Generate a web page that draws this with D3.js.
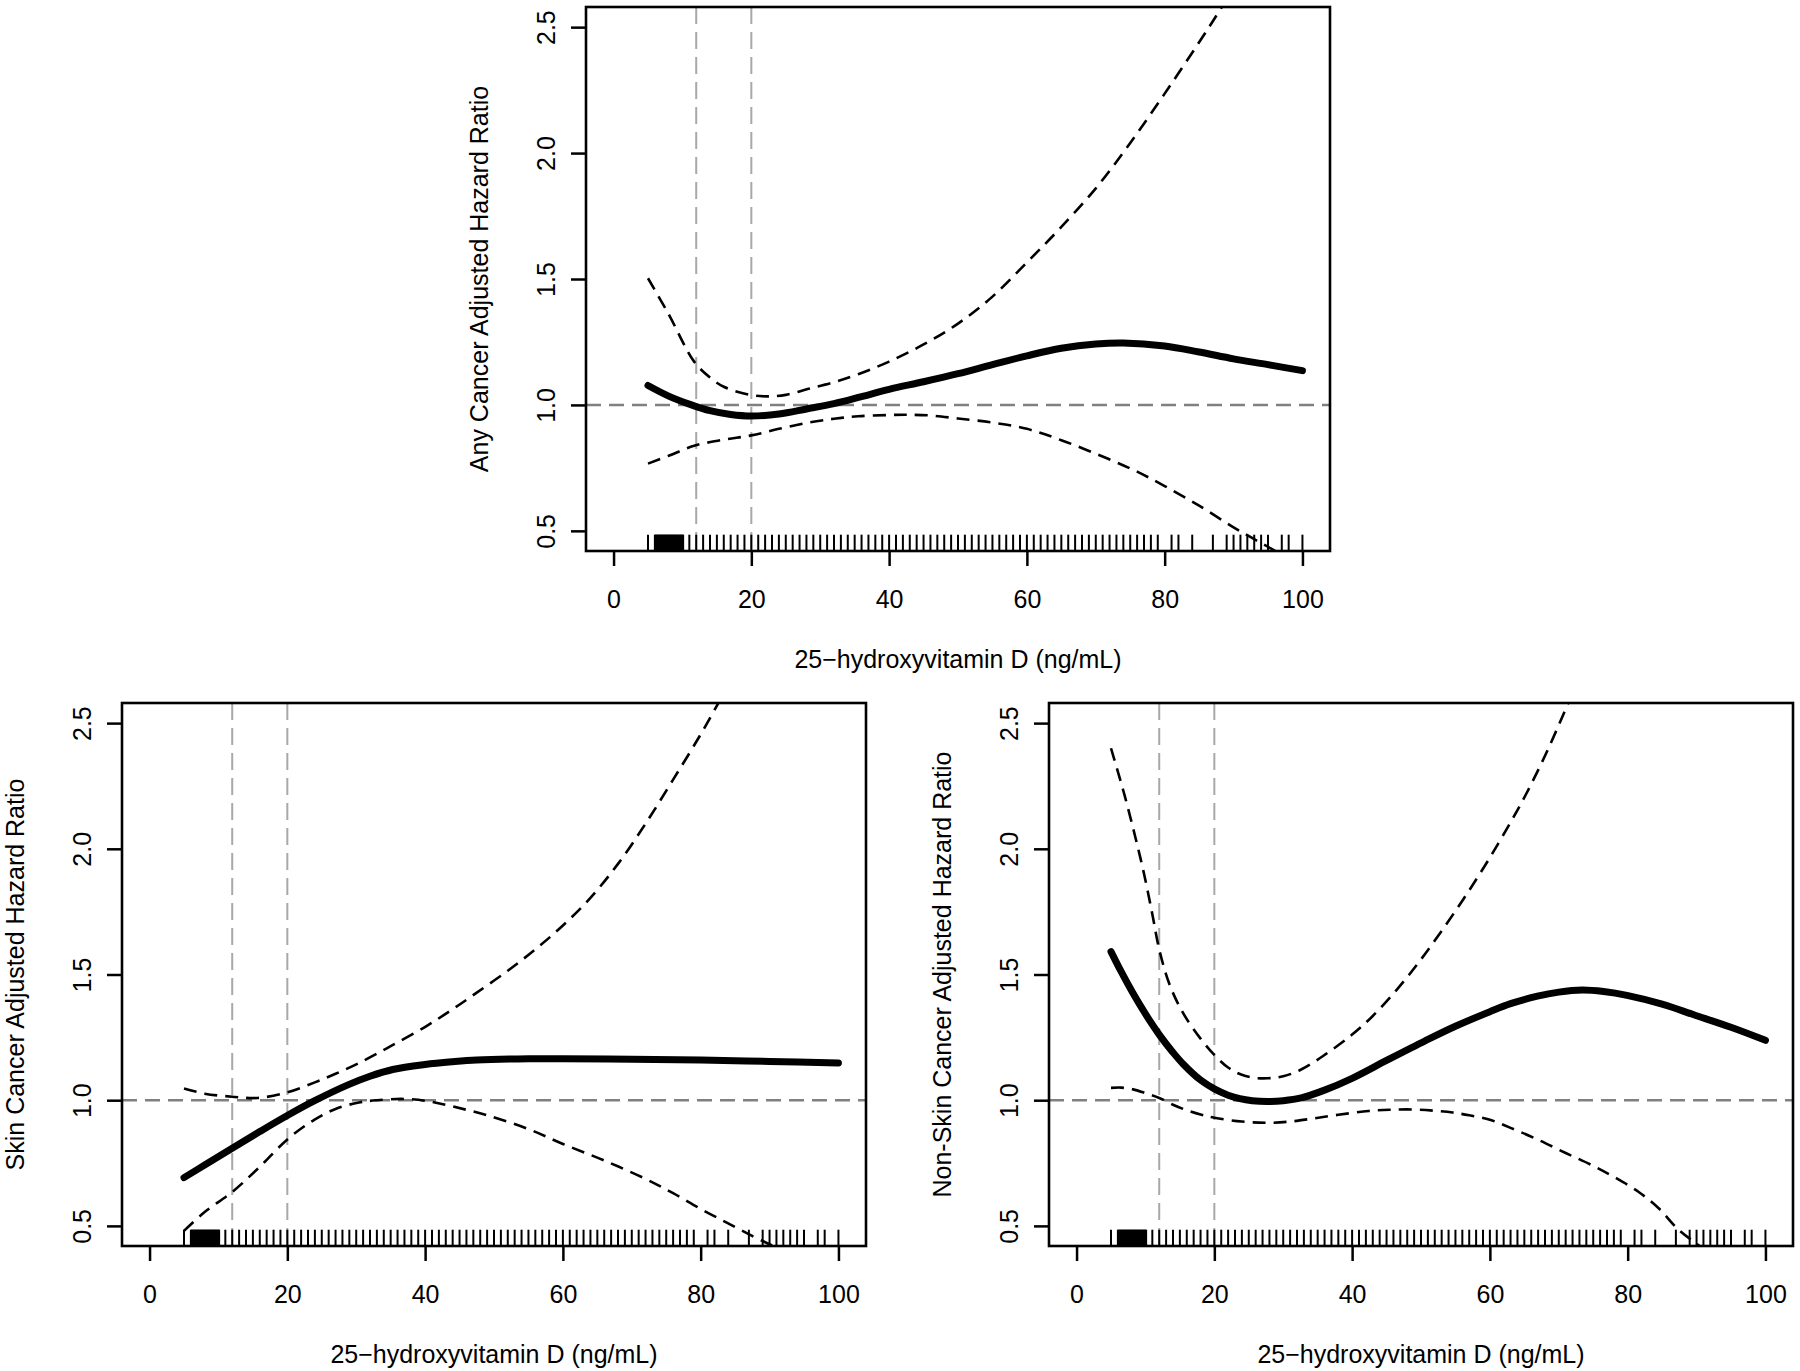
<!DOCTYPE html>
<html>
<head>
<meta charset="utf-8">
<script src="https://cdn.jsdelivr.net/npm/d3@7"></script>
<style>
  html, body { margin: 0; padding: 0; background: #fff; }
  svg { display: block; }
  text { font-family: "Liberation Sans", Arial, Helvetica, sans-serif; fill: #000; }
</style>
</head>
<body>
<svg id="chart" width="1800" height="1371"></svg>
<script>
// ---------------- data ----------------
const xTicks = [0, 20, 40, 60, 80, 100];
const xTickLabels = ["0", "20", "40", "60", "80", "100"];
const yTicks = [0.5, 1.0, 1.5, 2.0, 2.5];
const yTickLabels = ["0.5", "1.0", "1.5", "2.0", "2.5"];
const cutoffs = [12, 20];
const referenceHR = 1.0;
const xTitle = "25\u2212hydroxyvitamin D (ng/mL)";
const panelTitles = [
  "Any Cancer Adjusted Hazard Ratio",
  "Skin Cancer Adjusted Hazard Ratio",
  "Non-Skin Cancer Adjusted Hazard Ratio"
];

// observed 25(OH)D values (rug)
const rugValues = [
  5,
  6.0, 6.125, 6.25, 6.375, 6.5, 6.625, 6.75, 6.875, 7.0, 7.125, 7.25, 7.375, 7.5, 7.625, 7.75, 7.875,
  8.0, 8.125, 8.25, 8.375, 8.5, 8.625, 8.75, 8.875, 9.0, 9.125, 9.25, 9.375, 9.5, 9.625, 9.75, 9.875, 10.0, 10.1,
  11, 12, 13, 14, 15, 16, 17, 18, 19, 20, 21, 22, 23, 24, 25, 26, 27, 28, 29, 30,
  31, 32, 33, 34, 35, 36, 37, 38, 39, 40, 41, 42, 43, 44, 45, 46, 47, 48, 49, 50,
  51, 52, 53, 54, 55, 56, 57, 58, 59, 60, 61, 62, 63, 64, 65, 66, 67, 68, 69, 70,
  71, 72, 73, 74, 75, 76, 77, 78, 79, 81, 82, 84, 87, 89, 90, 91, 92, 93, 94, 95, 97, 98, 100
];

// Any cancer
const anyFitX = [5, 8, 11.3, 14, 17, 20, 24, 28, 32, 36, 40, 45, 50, 55, 60, 65, 70, 74, 80, 85, 90, 95, 100];
const anyFitY = [1.077, 1.035, 1.0, 0.977, 0.962, 0.956, 0.964, 0.984, 1.005, 1.033, 1.062, 1.092, 1.124, 1.16, 1.195, 1.225, 1.242, 1.246, 1.234, 1.21, 1.183, 1.16, 1.136];
const anyHiX = [5, 8, 11.7, 14, 16, 20, 22.5, 25, 28.3, 32, 35.5, 40, 45, 50, 55, 60, 64.5, 70, 75, 80, 85, 88.3, 92];
const anyHiY = [1.503, 1.36, 1.172, 1.109, 1.072, 1.039, 1.034, 1.04, 1.064, 1.09, 1.122, 1.172, 1.24, 1.323, 1.43, 1.566, 1.692, 1.86, 2.04, 2.236, 2.44, 2.58, 2.75];
const anyLoX = [5, 8, 11.7, 16, 20, 24, 28.3, 32, 35.5, 40, 42.8, 46, 50, 55, 60, 65, 71.7, 76, 80, 85, 89.7, 93, 96.2, 98];
const anyLoY = [0.767, 0.798, 0.838, 0.862, 0.879, 0.905, 0.93, 0.945, 0.955, 0.96, 0.961, 0.958, 0.946, 0.93, 0.905, 0.86, 0.787, 0.735, 0.678, 0.6, 0.519, 0.467, 0.418, 0.39];

// Skin cancer
const skinFitX = [5, 8, 12, 16, 20, 23.9, 28.8, 32, 35.3, 40, 44, 47.5, 55, 60, 70, 80, 90, 100];
const skinFitY = [0.692, 0.742, 0.809, 0.875, 0.939, 0.997, 1.061, 1.095, 1.122, 1.142, 1.153, 1.16, 1.165, 1.165, 1.163, 1.16, 1.154, 1.148];
const skinHiX = [5, 8, 12, 15.7, 20, 23.9, 27, 30.4, 35, 40.2, 44, 47.5, 52, 56, 60, 64, 68, 72, 76, 80, 83, 85];
const skinHiY = [1.047, 1.026, 1.014, 1.009, 1.031, 1.07, 1.105, 1.148, 1.215, 1.295, 1.362, 1.428, 1.515, 1.6, 1.695, 1.805, 1.94, 2.1, 2.275, 2.455, 2.6, 2.69];
const skinLoX = [5, 8, 12, 16, 20, 23.9, 27, 30.4, 33, 36.9, 40.2, 44, 49.1, 55, 60, 66, 72, 76, 80.1, 84, 87.4, 90, 92];
const skinLoY = [0.48, 0.555, 0.635, 0.735, 0.844, 0.922, 0.965, 0.991, 1.0, 1.005, 0.997, 0.975, 0.939, 0.885, 0.826, 0.76, 0.687, 0.63, 0.566, 0.51, 0.461, 0.427, 0.40];

// Non-skin cancer
const nsFitX = [5, 6.5, 8.2, 10, 12, 14, 15.5, 18, 20, 22, 23.7, 25.5, 27.7, 30, 32.6, 36, 40, 45, 50.6, 55, 60, 63, 66.9, 70, 73.4, 76.5, 79.9, 85, 89.7, 95, 100];
const nsFitY = [1.591, 1.51, 1.425, 1.343, 1.261, 1.19, 1.143, 1.08, 1.045, 1.02, 1.006, 0.998, 0.995, 0.998, 1.009, 1.04, 1.087, 1.158, 1.236, 1.294, 1.352, 1.384, 1.414, 1.43, 1.438, 1.432, 1.417, 1.382, 1.339, 1.29, 1.238];
const nsHiX = [5, 6.9, 8.5, 9.8, 11, 12, 13.5, 15.5, 18, 20, 22, 23.7, 25.5, 27.7, 30, 32.6, 36, 40, 43, 46.5, 50, 53.8, 57, 60, 63, 65.3, 68, 70.6, 72];
const nsHiY = [2.40, 2.22, 2.05, 1.90, 1.74, 1.60, 1.46, 1.345, 1.245, 1.18, 1.13, 1.104, 1.09, 1.087, 1.095, 1.122, 1.18, 1.261, 1.335, 1.44, 1.56, 1.705, 1.835, 1.965, 2.105, 2.22, 2.37, 2.53, 2.62];
const nsLoX = [5, 6.5, 8.2, 10, 12, 14, 15.5, 18, 20, 24, 27.7, 31, 34.3, 38, 42.4, 45.5, 48.9, 52, 54.6, 57, 60, 63, 66.9, 71, 75, 78, 81.6, 84.5, 87.3, 89.7, 91];
const nsLoY = [1.049, 1.05, 1.043, 1.028, 1.009, 0.982, 0.965, 0.943, 0.93, 0.915, 0.91, 0.915, 0.927, 0.942, 0.957, 0.962, 0.963, 0.958, 0.951, 0.94, 0.922, 0.89, 0.844, 0.79, 0.739, 0.695, 0.635, 0.57, 0.487, 0.435, 0.41];

// ---------------- layout ----------------
const panels = [
  { title: panelTitles[0], fit: [anyFitX, anyFitY], hi: [anyHiX, anyHiY], lo: [anyLoX, anyLoY], box: { x0: 586, x1: 1330, y0: 7, y1: 551 } },
  { title: panelTitles[1], fit: [skinFitX, skinFitY], hi: [skinHiX, skinHiY], lo: [skinLoX, skinLoY], box: { x0: 122, x1: 866, y0: 703, y1: 1246 } },
  { title: panelTitles[2], fit: [nsFitX, nsFitY], hi: [nsHiX, nsHiY], lo: [nsLoX, nsLoY], box: { x0: 1049, x1: 1793, y0: 703, y1: 1246 } }
];

const FONT = 25;
const svg = d3.select("#chart");

panels.forEach((p, i) => {
  const b = p.box;
  const x = d3.scaleLinear().domain([-4, 104]).range([b.x0, b.x1]);
  const y = d3.scaleLinear().domain([0.42, 2.58]).range([b.y1, b.y0]);
  const g = svg.append("g");

  const clipId = "clip" + i;
  svg.append("defs").append("clipPath").attr("id", clipId)
    .append("rect").attr("x", b.x0).attr("y", b.y0).attr("width", b.x1 - b.x0).attr("height", b.y1 - b.y0);

  const plot = g.append("g").attr("clip-path", `url(#${clipId})`);

  // reference lines
  plot.selectAll("line.vref").data(cutoffs).join("line")
    .attr("class", "vref")
    .attr("x1", d => x(d)).attr("x2", d => x(d))
    .attr("y1", b.y0).attr("y2", b.y1)
    .attr("stroke", "#a8a8a8").attr("stroke-width", 2).attr("stroke-dasharray", "17,8");
  plot.append("line")
    .attr("x1", b.x0).attr("x2", b.x1)
    .attr("y1", y(referenceHR)).attr("y2", y(referenceHR))
    .attr("stroke", "#808080").attr("stroke-width", 2.4).attr("stroke-dasharray", "15,8");

  const toPts = arr => arr[0].map((v, k) => [v, arr[1][k]]);
  const line = d3.line().x(d => x(d[0])).y(d => y(d[1])).curve(d3.curveCatmullRom.alpha(0.5));

  // confidence bands
  [p.hi, p.lo].forEach(s => {
    plot.append("path").attr("d", line(toPts(s)))
      .attr("fill", "none").attr("stroke", "#000").attr("stroke-width", 2.6)
      .attr("stroke-dasharray", "13,8");
  });
  // fit
  plot.append("path").attr("d", line(toPts(p.fit)))
    .attr("fill", "none").attr("stroke", "#000").attr("stroke-width", 7)
    .attr("stroke-linecap", "round").attr("stroke-linejoin", "round");

  // rug
  const rugLen = 0.03 * (b.y1 - b.y0);
  g.selectAll("line.rug").data(rugValues).join("line")
    .attr("class", "rug")
    .attr("x1", d => x(d)).attr("x2", d => x(d))
    .attr("y1", b.y1).attr("y2", b.y1 - rugLen)
    .attr("stroke", "#000").attr("stroke-width", 2);

  // axes
  const xAxis = d3.axisBottom(x).tickValues(xTicks).tickFormat((d, k) => xTickLabels[k])
    .tickSize(15).tickSizeOuter(0).tickPadding(24);
  const xa = g.append("g").attr("transform", `translate(0,${b.y1})`).call(xAxis);
  xa.select(".domain").remove();
  xa.selectAll("line").attr("stroke", "#000").attr("stroke-width", 2.5);
  xa.selectAll("text").attr("font-size", FONT).attr("font-family", null).attr("fill", "#000");

  const yAxis = d3.axisLeft(y).tickValues(yTicks).tickFormat((d, k) => yTickLabels[k])
    .tickSize(15).tickSizeOuter(0);
  const ya = g.append("g").attr("transform", `translate(${b.x0},0)`).call(yAxis);
  ya.select(".domain").remove();
  ya.selectAll("line").attr("stroke", "#000").attr("stroke-width", 2.5);
  ya.selectAll("text")
    .attr("x", null).attr("dy", null)
    .attr("transform", "translate(-31,0) rotate(-90)")
    .attr("text-anchor", "middle")
    .attr("font-size", FONT).attr("font-family", null).attr("fill", "#000");

  // frame
  g.append("rect").attr("x", b.x0).attr("y", b.y0)
    .attr("width", b.x1 - b.x0).attr("height", b.y1 - b.y0)
    .attr("fill", "none").attr("stroke", "#000").attr("stroke-width", 2.6);

  // titles
  g.append("text")
    .attr("x", (b.x0 + b.x1) / 2).attr("y", b.y1 + 117)
    .attr("text-anchor", "middle").attr("font-size", FONT)
    .text(xTitle);
  g.append("text")
    .attr("transform", `translate(${b.x0 - 98},${(b.y0 + b.y1) / 2}) rotate(-90)`)
    .attr("text-anchor", "middle").attr("font-size", FONT)
    .text(p.title);
});
</script>
</body>
</html>
